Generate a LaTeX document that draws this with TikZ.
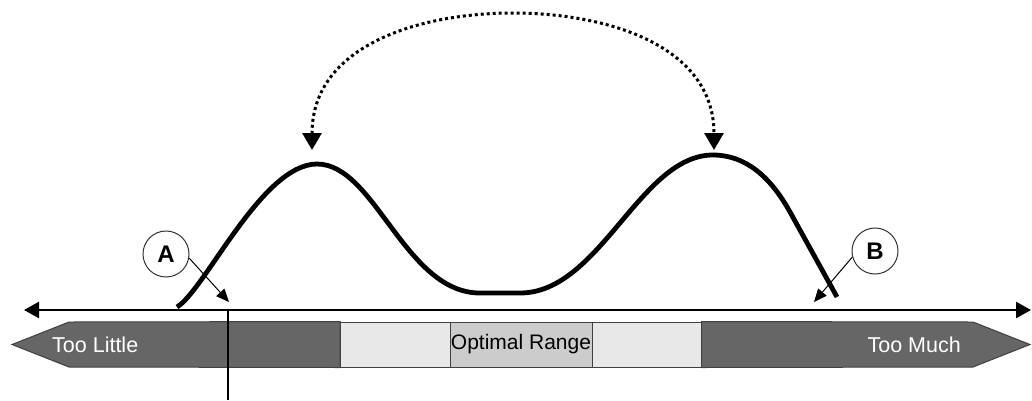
\documentclass[tikz,border=0pt]{standalone}
\usepackage{fontspec}
\setmainfont{Liberation Sans}
\usetikzlibrary{arrows.meta}
\definecolor{darkband}{HTML}{666666}
\definecolor{lightband}{HTML}{E8E8E8}
\definecolor{optband}{HTML}{CCCCCC}
\definecolor{bandline}{HTML}{404040}
\begin{document}
\begin{tikzpicture}[x=1pt,y=-1pt,
  axisline/.style={line width=2.6pt,{Triangle[length=15pt,width=16pt]}-{Triangle[length=15pt,width=16pt]}},
  seg/.style={draw=bandline,line width=1pt,minimum height=45pt,inner sep=0pt,font=\fontsize{21}{25}\selectfont},
  darkseg/.style={draw=bandline,line width=1pt,fill=darkband},
  bandtext/.style={text=white,font=\fontsize{21.5}{25}\selectfont,inner sep=0pt},
  letter/.style={circle,draw=black!80,line width=1pt,minimum size=46pt,inner sep=0pt,font=\bfseries\fontsize{24}{28}\selectfont},
  pointer/.style={line width=1pt,-{Triangle[length=13pt,width=11pt]}},
  curve/.style={line width=4.8pt,line cap=butt,line join=round},
  swap/.style={line width=3pt,dash pattern=on 3pt off 3pt,{Triangle[length=17pt,width=19pt]}-{Triangle[length=17pt,width=19pt]}}]
\useasboundingbox (0,0) rectangle (1032,400);

% band
\node[seg,fill=lightband,minimum width=110pt] (l1) at (395.5,344.5) {};
\node[seg,fill=optband,minimum width=142pt] (opt) at (521,344.5) {Optimal Range};
\node[seg,fill=lightband,minimum width=109pt] (l2) at (646.5,344.5) {};
\draw[darkseg] (12,344.5) -- (69,322) -- (l1.north west) -- (l1.south west) -- (69,367) -- cycle;
\draw[darkseg] (1030,344.5) -- (973,322) -- (l2.north east) -- (l2.south east) -- (973,367) -- cycle;
\node[bandtext,anchor=west] (tl) at (52,344.5) {Too Little};
\node[bandtext,anchor=east] (tm) at (961,344.5) {Too Much};

% axis
\coordinate (axL) at (24,310);
\coordinate (axR) at (1031,310);
\draw[axisline] (axL) -- (axR);

% vertical marker
\coordinate (vtop) at (228,310);
\coordinate (vbot) at (228,400);
\draw[line width=2pt] (vtop) -- (vbot);

% main curve
\draw[curve] (177,307) .. controls (205,290) and (262,164) .. (317,164)
  .. controls (375,164) and (405,293) .. (480,293)
  -- (520,293)
  .. controls (600,293) and (640,155) .. (713,155)
  .. controls (745,155) and (770,176) .. (790,212) -- (837,297);

% labels A and B
\node[letter] (A) at (166,254) {A};
\coordinate (Atip) at (229,302);
\draw[pointer] (A.-10) -- (Atip);
\node[letter] (B) at (875,251) {B};
\coordinate (Btip) at (814,302);
\draw[pointer] (B.195) -- (Btip);

% dotted swap arrow
\coordinate (pL) at (312,150);
\coordinate (pR) at (714,150);
\draw[swap] (pL) .. controls (312,45) and (420,13) .. (513,13)
  .. controls (606,13) and (714,45) .. (pR);
\end{tikzpicture}
\end{document}
